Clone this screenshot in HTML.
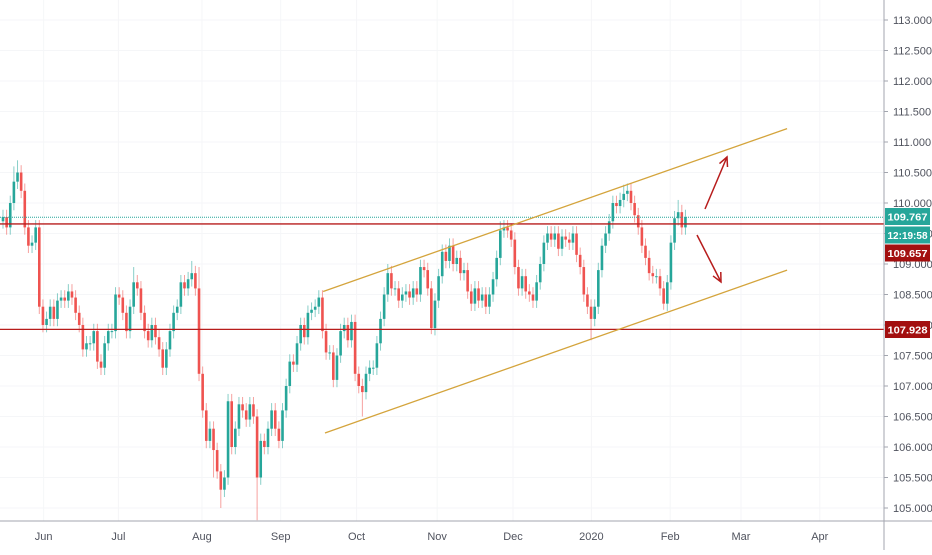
<!DOCTYPE html>
<html><head><meta charset="utf-8"><style>
body{margin:0;background:#fff;}
svg text{font-family:"Liberation Sans",sans-serif;}
</style></head><body>
<svg id="chart" width="932" height="550" xmlns="http://www.w3.org/2000/svg">
<g id="grid"></g>
<g id="candles"></g>
<g id="overlays"></g>
<g id="axes"></g>
</svg>
<script>
const closes=[109.77,109.6,110.0,110.35,110.5,110.2,109.6,109.3,109.35,109.6,
108.3,108.0,108.1,108.3,108.1,108.4,108.45,108.4,108.55,108.45,
108.2,108.0,107.6,107.7,107.7,107.9,107.4,107.3,107.7,107.9,
107.9,108.5,108.45,108.2,107.9,108.3,108.7,108.6,108.2,107.9,
107.75,108.0,107.8,107.6,107.3,107.6,107.9,108.2,108.3,108.7,
108.6,108.75,108.85,108.6,107.2,106.6,106.1,106.3,105.95,105.6,
105.3,105.5,106.75,106.0,106.3,106.7,106.6,106.45,106.7,106.5,
105.5,106.1,106.0,106.3,106.6,106.3,106.1,106.6,107.0,107.4,
107.35,107.7,108.0,107.8,108.2,108.25,108.3,108.45,107.9,107.55,
107.55,107.1,107.5,107.9,108.0,107.75,108.05,107.2,107.0,106.9,
107.2,107.3,107.3,107.7,108.1,108.5,108.85,108.6,108.6,108.4,
108.5,108.55,108.45,108.6,108.5,108.95,108.9,108.6,107.95,108.4,
108.8,109.2,109.05,109.3,109.0,109.1,108.85,108.9,108.55,108.35,
108.6,108.4,108.5,108.3,108.5,108.75,109.1,109.55,109.6,109.55,
109.4,108.95,108.6,108.8,108.55,108.5,108.4,108.7,109.0,109.35,
109.5,109.4,109.5,109.25,109.45,109.4,109.35,109.5,109.15,108.95,
108.5,108.3,108.1,108.3,108.9,109.3,109.5,109.7,110.0,109.95,
110.05,110.15,110.2,110.0,109.8,109.6,109.3,109.1,108.85,108.8,
108.8,108.6,108.35,108.7,109.35,109.75,109.85,109.6,109.77];
const firstOpen=109.7;
const wickPad=0.12;
const highOverrides={3:110.6,4:110.7,36:108.95,52:109.05,54:108.95,106:109.0,137:109.7,171:110.3,186:110.05};
const lowOverrides={60:105.0,70:104.8,58:105.5,99:106.5,118:107.85,162:107.75,182:108.25};
const priceTicks=[113,112.5,112,111.5,111,110.5,110,109.5,109,108.5,108,107.5,107,106.5,106,105.5,105];
const monthLabels=["Jun","Jul","Aug","Sep","Oct","Nov","Dec","2020","Feb","Mar","Apr"];
const monthPos=[11.2,31.8,54.8,76.5,97.4,119.6,140.5,162.1,183.8,203.3,225];
const hLevels=[109.657,107.928];
const lastPrice=109.767;
const channelUpper=[[88.2,108.55],[216,111.22]];
const channelLower=[[88.7,106.23],[216,108.9]];

const NS="http://www.w3.org/2000/svg";
const plotR=884, axisB=521;
const y=p=>20+(113-p)*61;
const x=i=>3+i*3.63;
function mk(tag,attrs,parent){const e=document.createElementNS(NS,tag);for(const k in attrs)e.setAttribute(k,attrs[k]);parent.appendChild(e);return e;}
const grid=document.getElementById('grid'),cg=document.getElementById('candles'),ov=document.getElementById('overlays'),ax=document.getElementById('axes');

priceTicks.forEach(p=>{const l=mk('line',{x1:0,x2:plotR,y1:y(p),y2:y(p),stroke:'#f5f6f8','stroke-width':1},grid);

});
monthPos.forEach(i=>{const l=mk('line',{x1:x(i),x2:x(i),y1:0,y2:axisB,stroke:'#f5f6f8','stroke-width':1},grid);

});

closes.forEach((c,i)=>{
 const o=i===0?firstOpen:closes[i-1];
 const up=c>=o;
 const hi=highOverrides[i]!==undefined?highOverrides[i]:Math.max(o,c)+wickPad;
 const lo=lowOverrides[i]!==undefined?lowOverrides[i]:Math.min(o,c)-wickPad;
 const col=up?'#26a69a':'#ef5350';
 const g=mk('g',{},cg);
 
 
 mk('line',{x1:x(i),x2:x(i),y1:y(hi),y2:y(lo),stroke:col,'stroke-opacity':0.55,'stroke-width':1},g);
 const top=y(Math.max(o,c)),h=Math.max(1,Math.abs(y(o)-y(c)));
 mk('rect',{x:x(i)-1.3,y:top,width:2.6,height:h,fill:col},g);
});

hLevels.forEach(p=>{const l=mk('line',{x1:0,x2:plotR,y1:y(p),y2:y(p),stroke:'#b71c1c','stroke-width':1.3},ov);

});
const lp=mk('line',{x1:0,x2:plotR,y1:y(lastPrice),y2:y(lastPrice),stroke:'#26a69a','stroke-width':1,'stroke-dasharray':'1,1'},ov);


[channelUpper,channelLower].forEach(ch=>{const l=mk('line',{x1:x(ch[0][0]),y1:y(ch[0][1]),x2:x(ch[1][0]),y2:y(ch[1][1]),stroke:'#d4a43c','stroke-width':1.3},ov);

});
function arrow(x1,y1,x2,y2){const g=mk('g',{stroke:'#b71c1c','stroke-width':1.5,fill:'none'},ov);
 
 
 mk('line',{x1,y1,x2,y2},g);
 const a=Math.atan2(y2-y1,x2-x1),L=10;
 mk('polyline',{points:`${x2-L*Math.cos(a-0.45)},${y2-L*Math.sin(a-0.45)} ${x2},${y2} ${x2-L*Math.cos(a+0.45)},${y2-L*Math.sin(a+0.45)}`},g);}
arrow(705,209,727,157);
arrow(697,235,721,282);

mk('line',{x1:plotR,x2:plotR,y1:0,y2:550,stroke:'#a3a6af','stroke-width':1},ax);
mk('line',{x1:0,x2:932,y1:axisB,y2:axisB,stroke:'#a3a6af','stroke-width':1},ax);
priceTicks.forEach(p=>{mk('line',{x1:plotR,x2:plotR+4,y1:y(p),y2:y(p),stroke:'#a3a6af'},ax);
 const t=mk('text',{x:893,y:y(p)+4,'font-size':11,fill:'#50535e'},ax);t.textContent=p.toFixed(3);
 
 });
monthLabels.forEach((m,k)=>{const t=mk('text',{x:x(monthPos[k]),y:540,'font-size':11,fill:'#50535e','text-anchor':'middle'},ax);t.textContent=m;
 
 });
function badge(yc,txt,col,name){const g=mk('g',{},ax);
 
 
 mk('rect',{x:885,y:yc-8.5,width:45,height:17,fill:col},g);
 const t=mk('text',{x:907.5,y:yc+4,'font-size':10.5,'font-weight':'bold',fill:'#fff','text-anchor':'middle',textLength:40,lengthAdjust:'spacingAndGlyphs'},g);t.textContent=txt;}
badge(216.5,'109.767','#26a69a','last-price-label');
badge(235,'12:19:58','#26a69a','countdown-label');
badge(253,'109.657','#a30f0f','level-label-upper');
badge(329.5,'107.928','#a30f0f','level-label-lower');
</script>
</body></html>
